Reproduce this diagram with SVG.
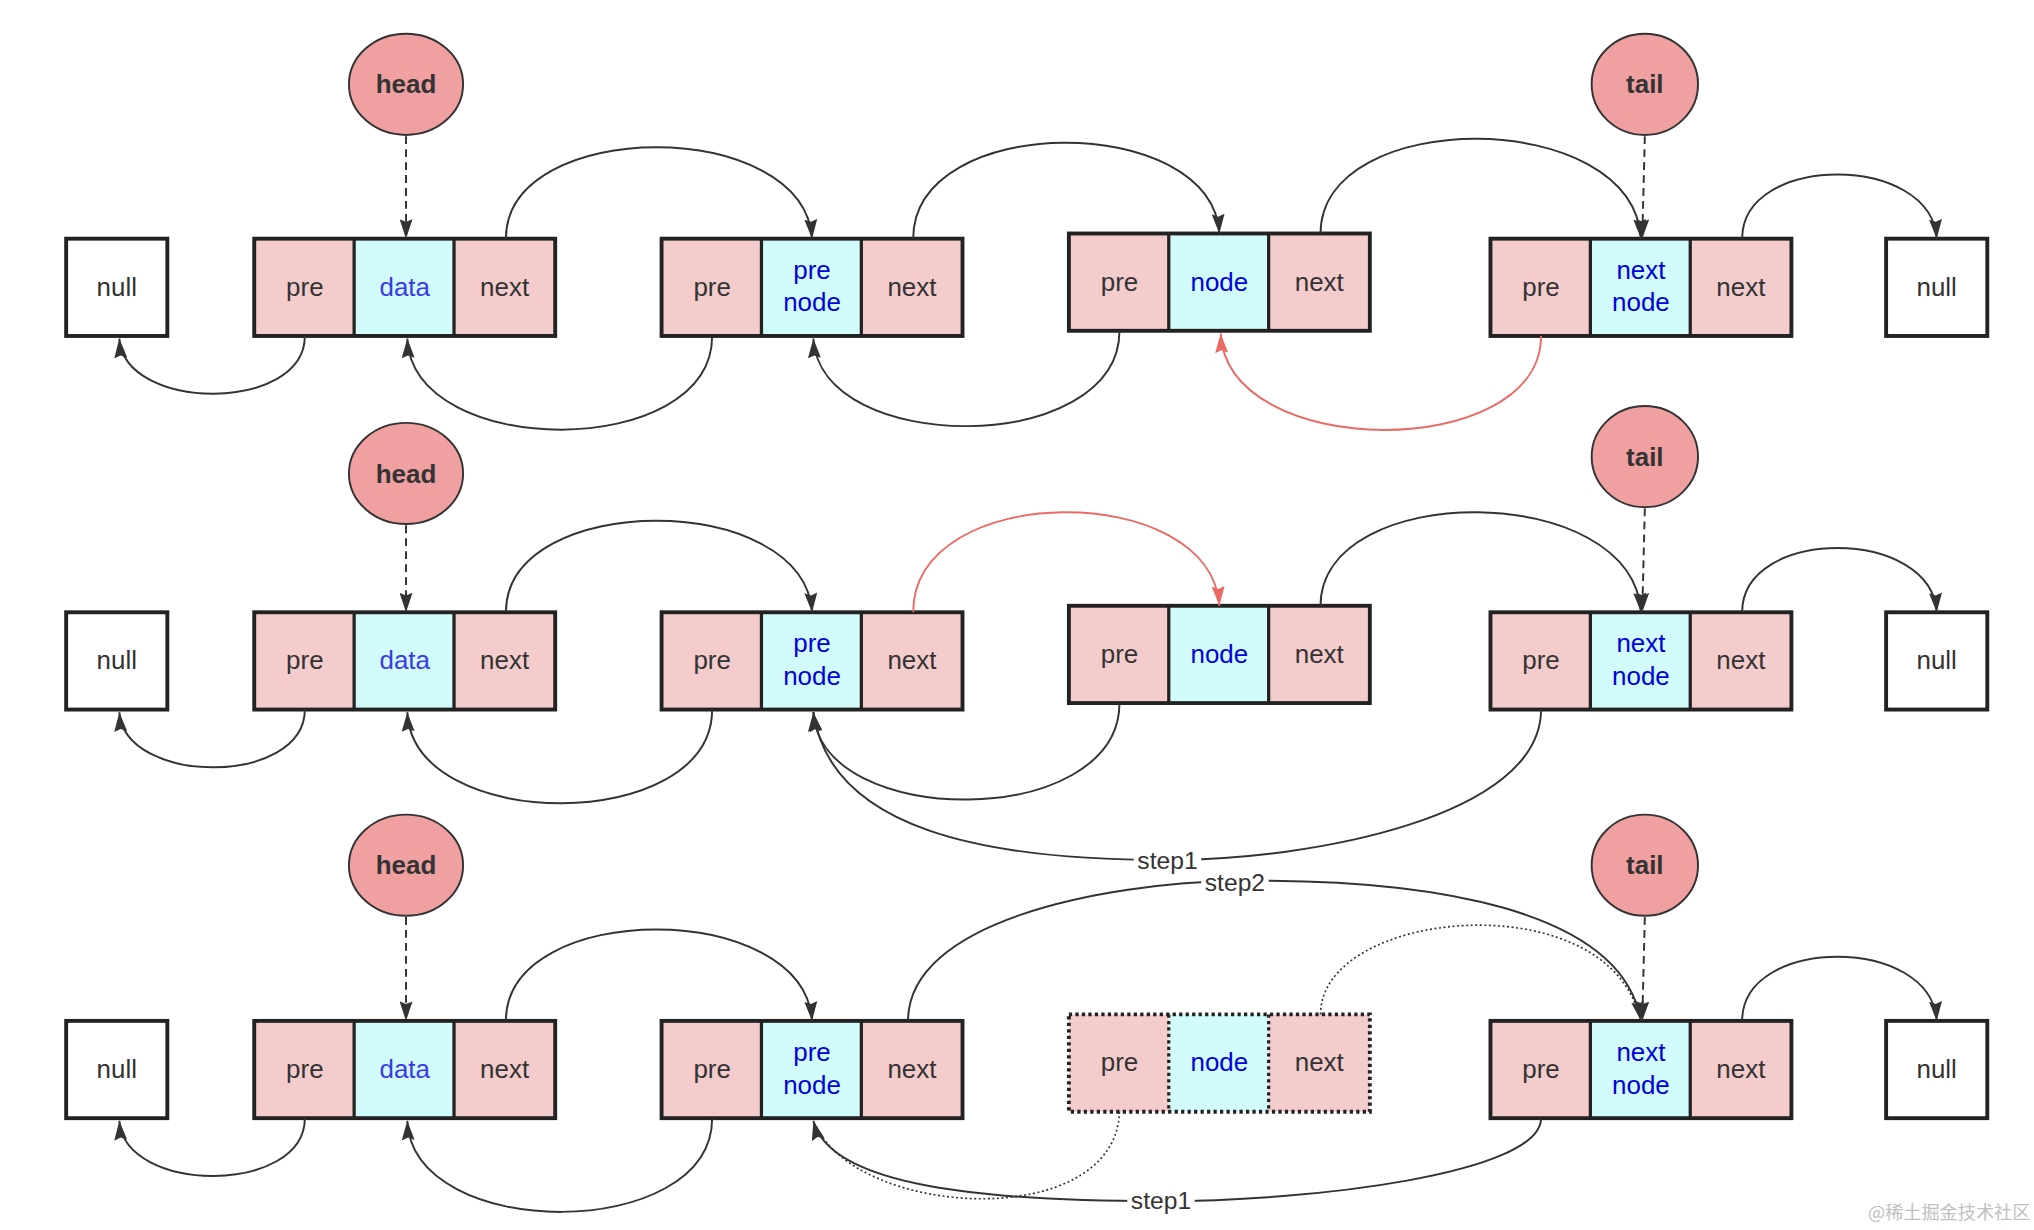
<svg xmlns="http://www.w3.org/2000/svg" width="2034" height="1230" viewBox="0 0 2034 1230">
<defs>
<style>
.pk{fill:#f4cccc}
.cy{fill:#d2fcfc}
.wh{fill:#ffffff}
.ob{fill:none;stroke:#222;stroke-width:3}
.od{fill:none;stroke:#222;stroke-width:3;stroke-dasharray:2.5,2.5}
.dv{stroke:#222;stroke-width:2.5}
.dvd{stroke:#222;stroke-width:2.5;stroke-dasharray:2.5,2.5}
.t{font-family:"Liberation Sans",Arial,sans-serif;font-size:20px;fill:#333;text-anchor:middle}
.b{fill:#0000dd}
.b2{fill:#3a3ae8}
.circ{fill:#f0a0a0;stroke:#333;stroke-width:1.5}
.ct{font-family:"Liberation Sans",Arial,sans-serif;font-size:20px;font-weight:bold;fill:#333;text-anchor:middle}
.c{fill:none;stroke:#333;stroke-width:1.5}
.cr{fill:none;stroke:#ea6b66;stroke-width:1.5}
.cd{fill:none;stroke:#333;stroke-width:1.5;stroke-dasharray:6,4}
.cdot{fill:none;stroke:#333;stroke-width:1.3;stroke-dasharray:1.5,2}
.lb{font-family:"Liberation Sans",Arial,sans-serif;font-size:19px;fill:#333;text-anchor:middle}
.wm{font-family:"Noto Sans CJK SC",sans-serif;font-size:14px;fill:#c0c0c0}
</style>
<marker id="ar" markerUnits="userSpaceOnUse" markerWidth="15" markerHeight="10" refX="15" refY="5" orient="auto"><path d="M0,0 L15,5 L0,10 L2,5 z" fill="#333"/></marker>
<marker id="arr" markerUnits="userSpaceOnUse" markerWidth="15" markerHeight="10" refX="15" refY="5" orient="auto"><path d="M0,0 L15,5 L0,10 L2,5 z" fill="#ea6b66"/></marker>
</defs>
<rect width="2034" height="1230" fill="#ffffff"/>
<g transform="scale(1.29719)">

<!-- ROW 1 -->
<g id="r1-null-left"><rect x="51" y="184" width="78" height="75" class="wh"/><rect x="51" y="184" width="78" height="75" class="ob"/><text x="90" y="228" class="t">null</text></g>
<g id="r1-head"><ellipse cx="313" cy="65" rx="44" ry="39" class="circ"/><text x="313" y="72" class="ct">head</text></g>
<g id="r1-nodeA">
<rect x="196" y="184" width="77" height="75" class="pk"/><rect x="273" y="184" width="77" height="75" class="cy"/><rect x="350" y="184" width="78" height="75" class="pk"/>
<line x1="273" y1="184" x2="273" y2="259" class="dv"/><line x1="350" y1="184" x2="350" y2="259" class="dv"/>
<rect x="196" y="184" width="232" height="75" class="ob"/>
<text x="235" y="228" class="t">pre</text><text x="312" y="228" class="t b2">data</text><text x="389" y="228" class="t">next</text></g>
<g id="r1-nodeB">
<rect x="510" y="184" width="77" height="75" class="pk"/><rect x="587" y="184" width="77" height="75" class="cy"/><rect x="664" y="184" width="78" height="75" class="pk"/>
<line x1="587" y1="184" x2="587" y2="259" class="dv"/><line x1="664" y1="184" x2="664" y2="259" class="dv"/>
<rect x="510" y="184" width="232" height="75" class="ob"/>
<text x="549" y="228" class="t">pre</text><text x="626" y="215" class="t b">pre</text><text x="626" y="240" class="t b">node</text><text x="703" y="228" class="t">next</text></g>
<g id="r1-nodeC">
<rect x="824" y="180" width="77" height="75" class="pk"/><rect x="901" y="180" width="77" height="75" class="cy"/><rect x="978" y="180" width="78" height="75" class="pk"/>
<line x1="901" y1="180" x2="901" y2="255" class="dv"/><line x1="978" y1="180" x2="978" y2="255" class="dv"/>
<rect x="824" y="180" width="232" height="75" class="ob"/>
<text x="863" y="224" class="t">pre</text><text x="940" y="224" class="t b">node</text><text x="1017" y="224" class="t">next</text></g>
<g id="r1-nodeD">
<rect x="1149" y="184" width="77" height="75" class="pk"/><rect x="1226" y="184" width="77" height="75" class="cy"/><rect x="1303" y="184" width="78" height="75" class="pk"/>
<line x1="1226" y1="184" x2="1226" y2="259" class="dv"/><line x1="1303" y1="184" x2="1303" y2="259" class="dv"/>
<rect x="1149" y="184" width="232" height="75" class="ob"/>
<text x="1188" y="228" class="t">pre</text><text x="1265" y="215" class="t b">next</text><text x="1265" y="240" class="t b">node</text><text x="1342" y="228" class="t">next</text></g>
<g id="r1-tail"><ellipse cx="1268" cy="65" rx="41" ry="39" class="circ"/><text x="1268" y="72" class="ct">tail</text></g>
<g id="r1-null-right"><rect x="1454" y="184" width="78" height="75" class="wh"/><rect x="1454" y="184" width="78" height="75" class="ob"/><text x="1493" y="228" class="t">null</text></g>

<!-- ROW 2 -->
<g id="r2-null-left"><rect x="51" y="472" width="78" height="75" class="wh"/><rect x="51" y="472" width="78" height="75" class="ob"/><text x="90" y="516" class="t">null</text></g>
<g id="r2-head"><ellipse cx="313" cy="365" rx="44" ry="39" class="circ"/><text x="313" y="372" class="ct">head</text></g>
<g id="r2-nodeA">
<rect x="196" y="472" width="77" height="75" class="pk"/><rect x="273" y="472" width="77" height="75" class="cy"/><rect x="350" y="472" width="78" height="75" class="pk"/>
<line x1="273" y1="472" x2="273" y2="547" class="dv"/><line x1="350" y1="472" x2="350" y2="547" class="dv"/>
<rect x="196" y="472" width="232" height="75" class="ob"/>
<text x="235" y="516" class="t">pre</text><text x="312" y="516" class="t b2">data</text><text x="389" y="516" class="t">next</text></g>
<g id="r2-nodeB">
<rect x="510" y="472" width="77" height="75" class="pk"/><rect x="587" y="472" width="77" height="75" class="cy"/><rect x="664" y="472" width="78" height="75" class="pk"/>
<line x1="587" y1="472" x2="587" y2="547" class="dv"/><line x1="664" y1="472" x2="664" y2="547" class="dv"/>
<rect x="510" y="472" width="232" height="75" class="ob"/>
<text x="549" y="516" class="t">pre</text><text x="626" y="503" class="t b">pre</text><text x="626" y="528" class="t b">node</text><text x="703" y="516" class="t">next</text></g>
<g id="r2-nodeC">
<rect x="824" y="467" width="77" height="75" class="pk"/><rect x="901" y="467" width="77" height="75" class="cy"/><rect x="978" y="467" width="78" height="75" class="pk"/>
<line x1="901" y1="467" x2="901" y2="542" class="dv"/><line x1="978" y1="467" x2="978" y2="542" class="dv"/>
<rect x="824" y="467" width="232" height="75" class="ob"/>
<text x="863" y="511" class="t">pre</text><text x="940" y="511" class="t b">node</text><text x="1017" y="511" class="t">next</text></g>
<g id="r2-nodeD">
<rect x="1149" y="472" width="77" height="75" class="pk"/><rect x="1226" y="472" width="77" height="75" class="cy"/><rect x="1303" y="472" width="78" height="75" class="pk"/>
<line x1="1226" y1="472" x2="1226" y2="547" class="dv"/><line x1="1303" y1="472" x2="1303" y2="547" class="dv"/>
<rect x="1149" y="472" width="232" height="75" class="ob"/>
<text x="1188" y="516" class="t">pre</text><text x="1265" y="503" class="t b">next</text><text x="1265" y="528" class="t b">node</text><text x="1342" y="516" class="t">next</text></g>
<g id="r2-tail"><ellipse cx="1268" cy="352" rx="41" ry="39" class="circ"/><text x="1268" y="359" class="ct">tail</text></g>
<g id="r2-null-right"><rect x="1454" y="472" width="78" height="75" class="wh"/><rect x="1454" y="472" width="78" height="75" class="ob"/><text x="1493" y="516" class="t">null</text></g>

<!-- ROW 3 -->
<g id="r3-null-left"><rect x="51" y="787" width="78" height="75" class="wh"/><rect x="51" y="787" width="78" height="75" class="ob"/><text x="90" y="831" class="t">null</text></g>
<g id="r3-head"><ellipse cx="313" cy="667" rx="44" ry="39" class="circ"/><text x="313" y="674" class="ct">head</text></g>
<g id="r3-nodeA">
<rect x="196" y="787" width="77" height="75" class="pk"/><rect x="273" y="787" width="77" height="75" class="cy"/><rect x="350" y="787" width="78" height="75" class="pk"/>
<line x1="273" y1="787" x2="273" y2="862" class="dv"/><line x1="350" y1="787" x2="350" y2="862" class="dv"/>
<rect x="196" y="787" width="232" height="75" class="ob"/>
<text x="235" y="831" class="t">pre</text><text x="312" y="831" class="t b2">data</text><text x="389" y="831" class="t">next</text></g>
<g id="r3-nodeB">
<rect x="510" y="787" width="77" height="75" class="pk"/><rect x="587" y="787" width="77" height="75" class="cy"/><rect x="664" y="787" width="78" height="75" class="pk"/>
<line x1="587" y1="787" x2="587" y2="862" class="dv"/><line x1="664" y1="787" x2="664" y2="862" class="dv"/>
<rect x="510" y="787" width="232" height="75" class="ob"/>
<text x="549" y="831" class="t">pre</text><text x="626" y="818" class="t b">pre</text><text x="626" y="843" class="t b">node</text><text x="703" y="831" class="t">next</text></g>
<g id="r3-nodeC">
<rect x="824" y="782" width="77" height="75" class="pk"/><rect x="901" y="782" width="77" height="75" class="cy"/><rect x="978" y="782" width="78" height="75" class="pk"/>
<line x1="901" y1="782" x2="901" y2="857" class="dvd"/><line x1="978" y1="782" x2="978" y2="857" class="dvd"/>
<rect x="824" y="782" width="232" height="75" class="od"/>
<text x="863" y="826" class="t">pre</text><text x="940" y="826" class="t b">node</text><text x="1017" y="826" class="t">next</text></g>
<g id="r3-nodeD">
<rect x="1149" y="787" width="77" height="75" class="pk"/><rect x="1226" y="787" width="77" height="75" class="cy"/><rect x="1303" y="787" width="78" height="75" class="pk"/>
<line x1="1226" y1="787" x2="1226" y2="862" class="dv"/><line x1="1303" y1="787" x2="1303" y2="862" class="dv"/>
<rect x="1149" y="787" width="232" height="75" class="ob"/>
<text x="1188" y="831" class="t">pre</text><text x="1265" y="818" class="t b">next</text><text x="1265" y="843" class="t b">node</text><text x="1342" y="831" class="t">next</text></g>
<g id="r3-tail"><ellipse cx="1268" cy="667" rx="41" ry="39" class="circ"/><text x="1268" y="674" class="ct">tail</text></g>
<g id="r3-null-right"><rect x="1454" y="787" width="78" height="75" class="wh"/><rect x="1454" y="787" width="78" height="75" class="ob"/><text x="1493" y="831" class="t">null</text></g>

<!-- CONNECTORS -->
<g id="connectors">
<!-- row 1 -->
<path d="M313,105 L313,184" class="cd" marker-end="url(#ar)"/>
<path d="M1268,105 L1266,184" class="cd" marker-end="url(#ar)"/>
<path d="M390,184 C390,90 620,90 626,184" class="c" marker-end="url(#ar)"/>
<path d="M704,184 C704,86 934,86 940,180" class="c" marker-end="url(#ar)"/>
<path d="M1018,180 C1018,82 1259,82 1265,184" class="c" marker-end="url(#ar)"/>
<path d="M1343,184 C1343,118 1489,118 1493,184" class="c" marker-end="url(#ar)"/>
<path d="M235,259 C235,318 96,318 92,261" class="c" marker-end="url(#ar)"/>
<path d="M549,259 C549,355 318,355 314,261" class="c" marker-end="url(#ar)"/>
<path d="M863,255 C863,352 632,352 627,261" class="c" marker-end="url(#ar)"/>
<path d="M1188,259 C1188,356 946,356 941,257" class="cr" marker-end="url(#arr)"/>
<!-- row 2 -->
<path d="M313,405 L313,472" class="cd" marker-end="url(#ar)"/>
<path d="M1268,392 L1266,472" class="cd" marker-end="url(#ar)"/>
<path d="M390,472 C390,378 620,378 626,472" class="c" marker-end="url(#ar)"/>
<path d="M704,472 C704,370 934,370 940,467" class="cr" marker-end="url(#arr)"/>
<path d="M1018,467 C1018,370 1259,370 1265,472" class="c" marker-end="url(#ar)"/>
<path d="M1343,472 C1343,406 1489,406 1493,472" class="c" marker-end="url(#ar)"/>
<path d="M235,547 C235,606 96,606 92,549" class="c" marker-end="url(#ar)"/>
<path d="M549,547 C549,643 318,643 314,549" class="c" marker-end="url(#ar)"/>
<path d="M863,542 C863,640 632,640 627,549" class="c" marker-end="url(#ar)"/>
<path d="M1188,547 C1188,630 1010,663 900,663 C760,663 640,640 627,549" class="c" marker-end="url(#ar)"/>
<!-- row 3 -->
<path d="M313,707 L313,787" class="cd" marker-end="url(#ar)"/>
<path d="M1268,707 L1266,787" class="cd" marker-end="url(#ar)"/>
<path d="M390,787 C390,693 620,693 626,787" class="c" marker-end="url(#ar)"/>
<path d="M700,787 C700,710 850,681 952,679 C1100,677 1250,700 1265,787" class="c" marker-end="url(#ar)"/>
<path d="M1018,782 C1018,700 1240,680 1264,785" class="cdot"/>
<path d="M1343,787 C1343,721 1489,721 1493,787" class="c" marker-end="url(#ar)"/>
<path d="M235,862 C235,921 96,921 92,864" class="c" marker-end="url(#ar)"/>
<path d="M549,862 C549,958 318,958 314,864" class="c" marker-end="url(#ar)"/>
<path d="M863,857 C860,950 660,940 628,866" class="cdot"/>
<path d="M1188,862 C1188,905 1010,926 895,926 C760,926 640,915 627,864" class="c" marker-end="url(#ar)"/>
<!-- labels -->
<rect x="874" y="653" width="52" height="20" fill="#ffffff"/>
<text x="900" y="670" class="lb">step1</text>
<rect x="926" y="670" width="52" height="20" fill="#ffffff"/>
<text x="952" y="687" class="lb">step2</text>
<rect x="869" y="915" width="52" height="20" fill="#ffffff"/>
<text x="895" y="932" class="lb">step1</text>
</g>

<text x="1440" y="940" class="wm">@稀土掘金技术社区</text>
</g>
</svg>
